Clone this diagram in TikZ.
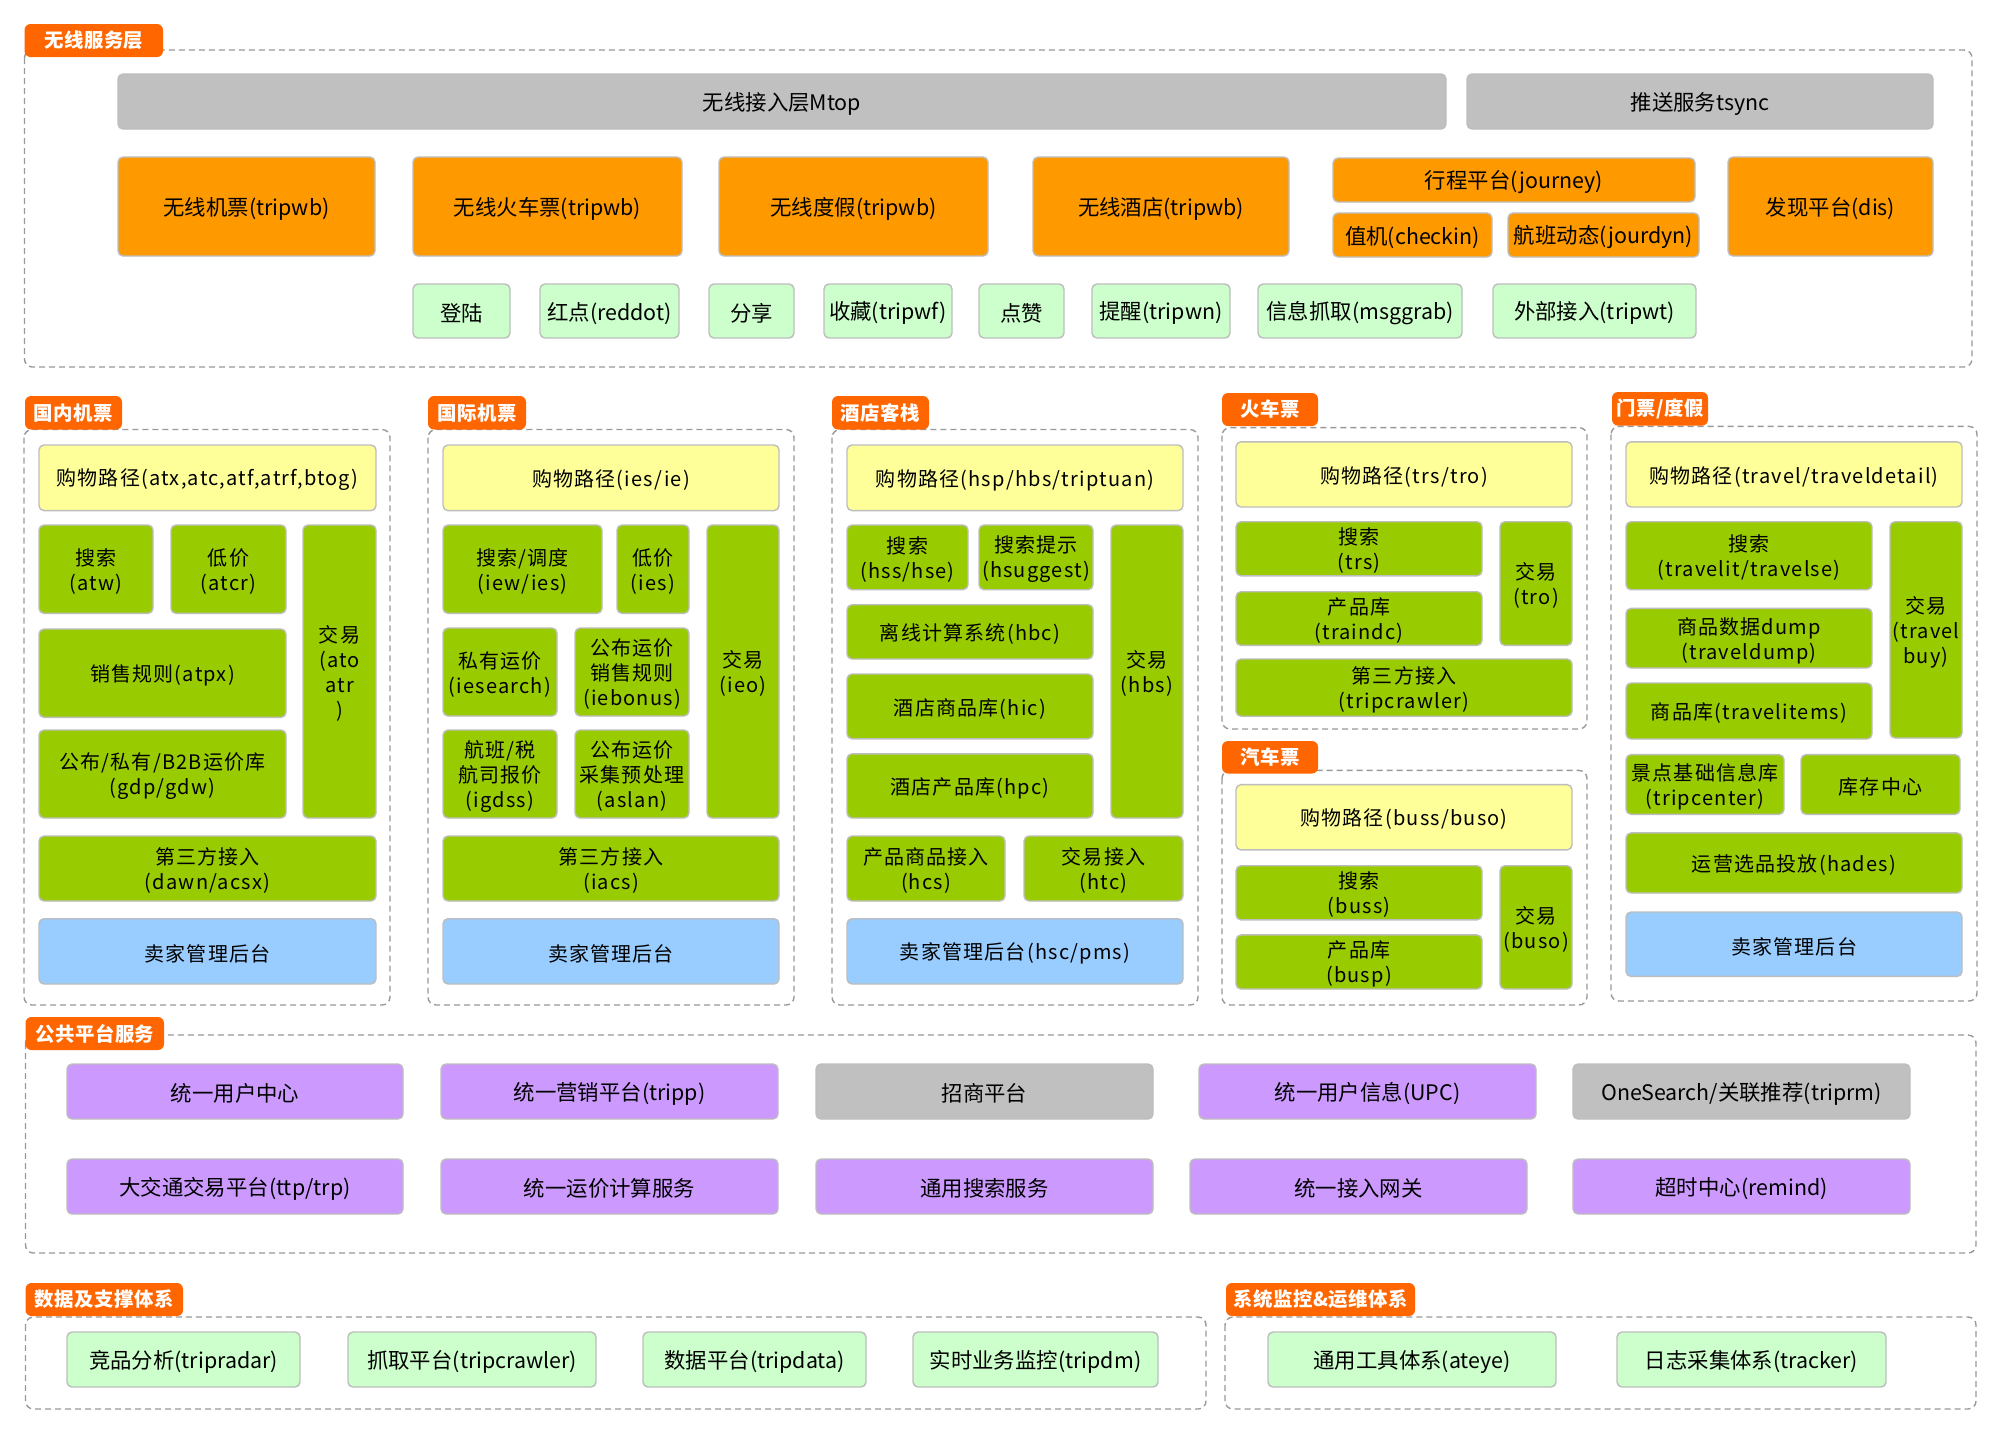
\documentclass[tikz,border=0pt]{standalone}
\usepackage{fontspec}
\setmainfont{Noto Sans CJK SC}
\newfontfamily\topf{Noto Sans CJK SC}
\newfontfamily\midf[LetterSpace=6]{Noto Sans CJK SC}
\newfontfamily\labf[LetterSpace=3]{Noto Sans CJK SC}
\definecolor{labc}{HTML}{FF6600}
\definecolor{orc}{HTML}{FF9900}
\definecolor{grayc}{HTML}{C0C0C0}
\definecolor{lgc}{HTML}{CCFFCC}
\definecolor{yc}{HTML}{FFFF99}
\definecolor{grc}{HTML}{99CC00}
\definecolor{bc}{HTML}{99CCFF}
\definecolor{pc}{HTML}{CC99FF}
\definecolor{bordc}{HTML}{BDBDBD}
\definecolor{dashc}{HTML}{999999}
\tikzset{
  base/.style={draw=bordc, line width=0.7pt, rounded corners=2.5pt, inner sep=0pt, outer sep=0pt},
  txt/.style={inner sep=0pt, outer sep=0pt, align=center, text=black},
  topt/.style={font=\topf\fontsize{10.7}{12.5}\selectfont},
  midt/.style={font=\midf\fontsize{10}{12.5}\selectfont},
  gbox/.style={base, fill=grayc, topt},
  obox/.style={base, fill=orc, topt},
  lgbox/.style={base, fill=lgc, topt},
  ybox/.style={base, fill=yc, midt},
  grbox/.style={base, fill=grc, midt},
  bbox/.style={base, fill=bc, midt},
  pbox/.style={base, fill=pc, topt},
  lab/.style={fill=labc, rounded corners=3pt, inner sep=0pt, outer sep=0pt, text=white, font=\labf\bfseries\fontsize{9.7}{11}\selectfont},
  dashbox/.style={draw=dashc, line width=0.7pt, dash pattern=on 3pt off 2pt, rounded corners=4pt}
}
\newcommand\mybox[7]{%
  \node[#2, minimum width={(#5-#3)*0.5}, minimum height={(#6-#4)*0.5}] (#1) at ({(#3+#5)/2},{(#4+#6)/2}) {};
  \node[#2, draw=none, fill=none, txt, yshift=-1.1pt] (#1-t) at (#1.center) {#7};}
\newcommand\mylab[6]{\node[lab, minimum width={(#4-#2)*0.5}, minimum height={(#5-#3)*0.5}] (#1) at ({(#2+#4)/2},{(#3+#5)/2}) {#6};}
\begin{document}
\begin{tikzpicture}[x=0.5pt, y=-0.5pt]
\useasboundingbox[fill=white] (0,0) rectangle (2000,1432);
% ===== 无线服务层
\draw[dashbox] (24.5,50) rectangle (1972,367);
\mylab{l0}{24.5}{24}{163}{57}{无线服务层}
\mybox{mtop}{gbox}{118}{74}{1446}{129}{无线接入层Mtop}
\mybox{tsync}{gbox}{1467}{74}{1933}{129}{推送服务tsync}
\mybox{wjp}{obox}{118}{157}{375}{256}{无线机票(tripwb)}
\mybox{whcp}{obox}{413}{157}{682}{256}{无线火车票(tripwb)}
\mybox{wdj}{obox}{719}{157}{988}{256}{无线度假(tripwb)}
\mybox{wjd}{obox}{1033}{157}{1289}{256}{无线酒店(tripwb)}
\mybox{journey}{obox}{1333}{158}{1695}{202}{行程平台(journey)}
\mybox{checkin}{obox}{1333}{213}{1492}{257}{值机(checkin)}
\mybox{jourdyn}{obox}{1508}{213}{1699}{257}{航班动态(jourdyn)}
\mybox{dis}{obox}{1728}{157}{1933}{256}{发现平台(dis)}
\mybox{s1}{lgbox}{413}{284}{510}{338}{登陆}
\mybox{s2}{lgbox}{540}{284}{679}{338}{红点(reddot)}
\mybox{s3}{lgbox}{709}{284}{794}{338}{分享}
\mybox{s4}{lgbox}{824}{284}{952}{338}{收藏(tripwf)}
\mybox{s5}{lgbox}{979}{284}{1064}{338}{点赞}
\mybox{s6}{lgbox}{1092}{284}{1230}{338}{提醒(tripwn)}
\mybox{s7}{lgbox}{1258}{284}{1462}{338}{信息抓取(msggrab)}
\mybox{s8}{lgbox}{1493}{284}{1696}{338}{外部接入(tripwt)}
% ===== 国内机票
\draw[dashbox] (24,429.5) rectangle (390,1005);
\mylab{l1}{25}{396}{122}{429.5}{国内机票}
\mybox{c1p}{ybox}{39}{445}{376}{510.6}{购物路径(atx,atc,atf,atrf,btog)}
\mybox{c1s}{grbox}{39}{525}{153}{613.4}{搜索\\(atw)}
\mybox{c1d}{grbox}{171}{525}{286}{613.4}{低价\\(atcr)}
\mybox{c1t}{grbox}{303}{525}{376}{818}{交易\\(ato\\atr\\)}
\mybox{c1r}{grbox}{39}{629}{286}{717.4}{销售规则(atpx)}
\mybox{c1g}{grbox}{39}{730}{286}{818}{公布/私有/B2B运价库\\(gdp/gdw)}
\mybox{c1x}{grbox}{39}{836}{376}{901}{第三方接入\\(dawn/acsx)}
\mybox{c1m}{bbox}{39}{918.7}{376}{984}{卖家管理后台}
% ===== 国际机票
\draw[dashbox] (428,429.5) rectangle (794,1005);
\mylab{l2}{428}{396}{526}{429.5}{国际机票}
\mybox{c2p}{ybox}{443}{445}{779}{510.6}{购物路径(ies/ie)}
\mybox{c2s}{grbox}{443}{525}{602}{613.4}{搜索/调度\\(iew/ies)}
\mybox{c2d}{grbox}{617}{525}{689}{613.4}{低价\\(ies)}
\mybox{c2t}{grbox}{707}{525}{779}{818}{交易\\(ieo)}
\mybox{c2a}{grbox}{443}{628}{557}{716}{私有运价\\(iesearch)}
\mybox{c2b}{grbox}{575}{628}{689}{716}{公布运价\\销售规则\\(iebonus)}
\mybox{c2c}{grbox}{443}{730}{557}{818}{航班/税\\航司报价\\(igdss)}
\mybox{c2e}{grbox}{575}{730}{689}{818}{公布运价\\采集预处理\\(aslan)}
\mybox{c2x}{grbox}{443}{836}{779}{901}{第三方接入\\(iacs)}
\mybox{c2m}{bbox}{443}{918.7}{779}{984}{卖家管理后台}
% ===== 酒店客栈
\draw[dashbox] (832,429.5) rectangle (1198,1005);
\mylab{l3}{832}{396}{929}{429.5}{酒店客栈}
\mybox{c3p}{ybox}{847}{445}{1183}{510.6}{购物路径(hsp/hbs/triptuan)}
\mybox{c3s}{grbox}{847}{525}{968}{589.7}{搜索\\(hss/hse)}
\mybox{c3g}{grbox}{979}{525}{1093}{589.7}{搜索提示\\(hsuggest)}
\mybox{c3t}{grbox}{1111}{525}{1183}{818}{交易\\(hbs)}
\mybox{c3b}{grbox}{847}{604.7}{1093}{659}{离线计算系统(hbc)}
\mybox{c3i}{grbox}{847}{674}{1093}{738.8}{酒店商品库(hic)}
\mybox{c3c}{grbox}{847}{753.8}{1093}{818}{酒店产品库(hpc)}
\mybox{c3x}{grbox}{847}{836}{1005}{901}{产品商品接入\\(hcs)}
\mybox{c3y}{grbox}{1024}{836}{1183}{901}{交易接入\\(htc)}
\mybox{c3m}{bbox}{847}{918.7}{1183}{984}{卖家管理后台(hsc/pms)}
% ===== 火车票
\draw[dashbox] (1222,427.6) rectangle (1587,729);
\mylab{l4}{1222}{393}{1318}{426}{火车票}
\mybox{tp}{ybox}{1236}{441.8}{1572}{507}{购物路径(trs/tro)}
\mybox{ts}{grbox}{1236}{521.7}{1482}{575.8}{搜索\\(trs)}
\mybox{tc}{grbox}{1236}{591.7}{1482}{645.4}{产品库\\(traindc)}
\mybox{tt}{grbox}{1500}{521.7}{1572}{645.4}{交易\\(tro)}
\mybox{tx}{grbox}{1236}{659}{1572}{716.2}{第三方接入\\(tripcrawler)}
% ===== 汽车票
\draw[dashbox] (1222,770.4) rectangle (1587,1005);
\mylab{l5}{1222}{741}{1318}{773.5}{汽车票}
\mybox{bp}{ybox}{1236}{784.6}{1572}{849.9}{购物路径(buss/buso)}
\mybox{bs}{grbox}{1236}{865.7}{1482}{919.9}{搜索\\(buss)}
\mybox{bc}{grbox}{1236}{934.9}{1482}{989}{产品库\\(busp)}
\mybox{bt}{grbox}{1500}{865.7}{1572}{989}{交易\\(buso)}
% ===== 门票/度假
\draw[dashbox] (1611,426.4) rectangle (1977,1001);
\mylab{l6}{1612}{392}{1708}{425.6}{门票/度假}
\mybox{vp}{ybox}{1626}{441.8}{1962}{507}{购物路径(travel/traveldetail)}
\mybox{vs}{grbox}{1626}{521.7}{1872}{589.7}{搜索\\(travelit/travelse)}
\mybox{vd}{grbox}{1626}{608.3}{1872}{668}{商品数据dump\\(traveldump)}
\mybox{vi}{grbox}{1626}{683}{1872}{739}{商品库(travelitems)}
\mybox{vt}{grbox}{1890}{521.7}{1962}{738}{交易\\(travel\\buy)}
\mybox{vj}{grbox}{1626}{754.6}{1784}{814.3}{景点基础信息库\\(tripcenter)}
\mybox{vk}{grbox}{1801}{754.6}{1960}{814.3}{库存中心}
\mybox{vh}{grbox}{1626}{832.9}{1962}{893}{运营选品投放(hades)}
\mybox{vm}{bbox}{1626}{912}{1962}{976.4}{卖家管理后台}
% ===== 公共平台服务
\draw[dashbox] (25.5,1035) rectangle (1976,1253);
\mylab{l7}{25.5}{1017}{164}{1050}{公共平台服务}
\mybox{p1}{pbox}{67}{1064}{403}{1119}{统一用户中心}
\mybox{p2}{pbox}{441}{1064}{778}{1119}{统一营销平台(tripp)}
\mybox{p3}{gbox}{816}{1064}{1153}{1119}{招商平台}
\mybox{p4}{pbox}{1199}{1064}{1536}{1119}{统一用户信息(UPC)}
\mybox{p5}{gbox}{1573}{1064}{1910}{1119}{OneSearch/关联推荐(triprm)}
\mybox{q1}{pbox}{67}{1159}{403}{1214}{大交通交易平台(ttp/trp)}
\mybox{q2}{pbox}{441}{1159}{778}{1214}{统一运价计算服务}
\mybox{q3}{pbox}{816}{1159}{1153}{1214}{通用搜索服务}
\mybox{q4}{pbox}{1190}{1159}{1527}{1214}{统一接入网关}
\mybox{q5}{pbox}{1573}{1159}{1910}{1214}{超时中心(remind)}
% ===== 数据及支撑体系
\draw[dashbox] (25.5,1317) rectangle (1206,1409);
\mylab{l8}{25.5}{1283}{183}{1316}{数据及支撑体系}
\mybox{d1}{lgbox}{67}{1332}{300}{1387}{竞品分析(tripradar)}
\mybox{d2}{lgbox}{348}{1332}{596}{1387}{抓取平台(tripcrawler)}
\mybox{d3}{lgbox}{643}{1332}{866}{1387}{数据平台(tripdata)}
\mybox{d4}{lgbox}{913}{1332}{1158}{1387}{实时业务监控(tripdm)}
% ===== 系统监控&运维体系
\draw[dashbox] (1225,1317) rectangle (1976,1409);
\mylab{l9}{1226}{1283}{1415}{1316}{系统监控\&运维体系}
\mybox{m1}{lgbox}{1268}{1332}{1556}{1387}{通用工具体系(ateye)}
\mybox{m2}{lgbox}{1617}{1332}{1886}{1387}{日志采集体系(tracker)}
\end{tikzpicture}
\end{document}
